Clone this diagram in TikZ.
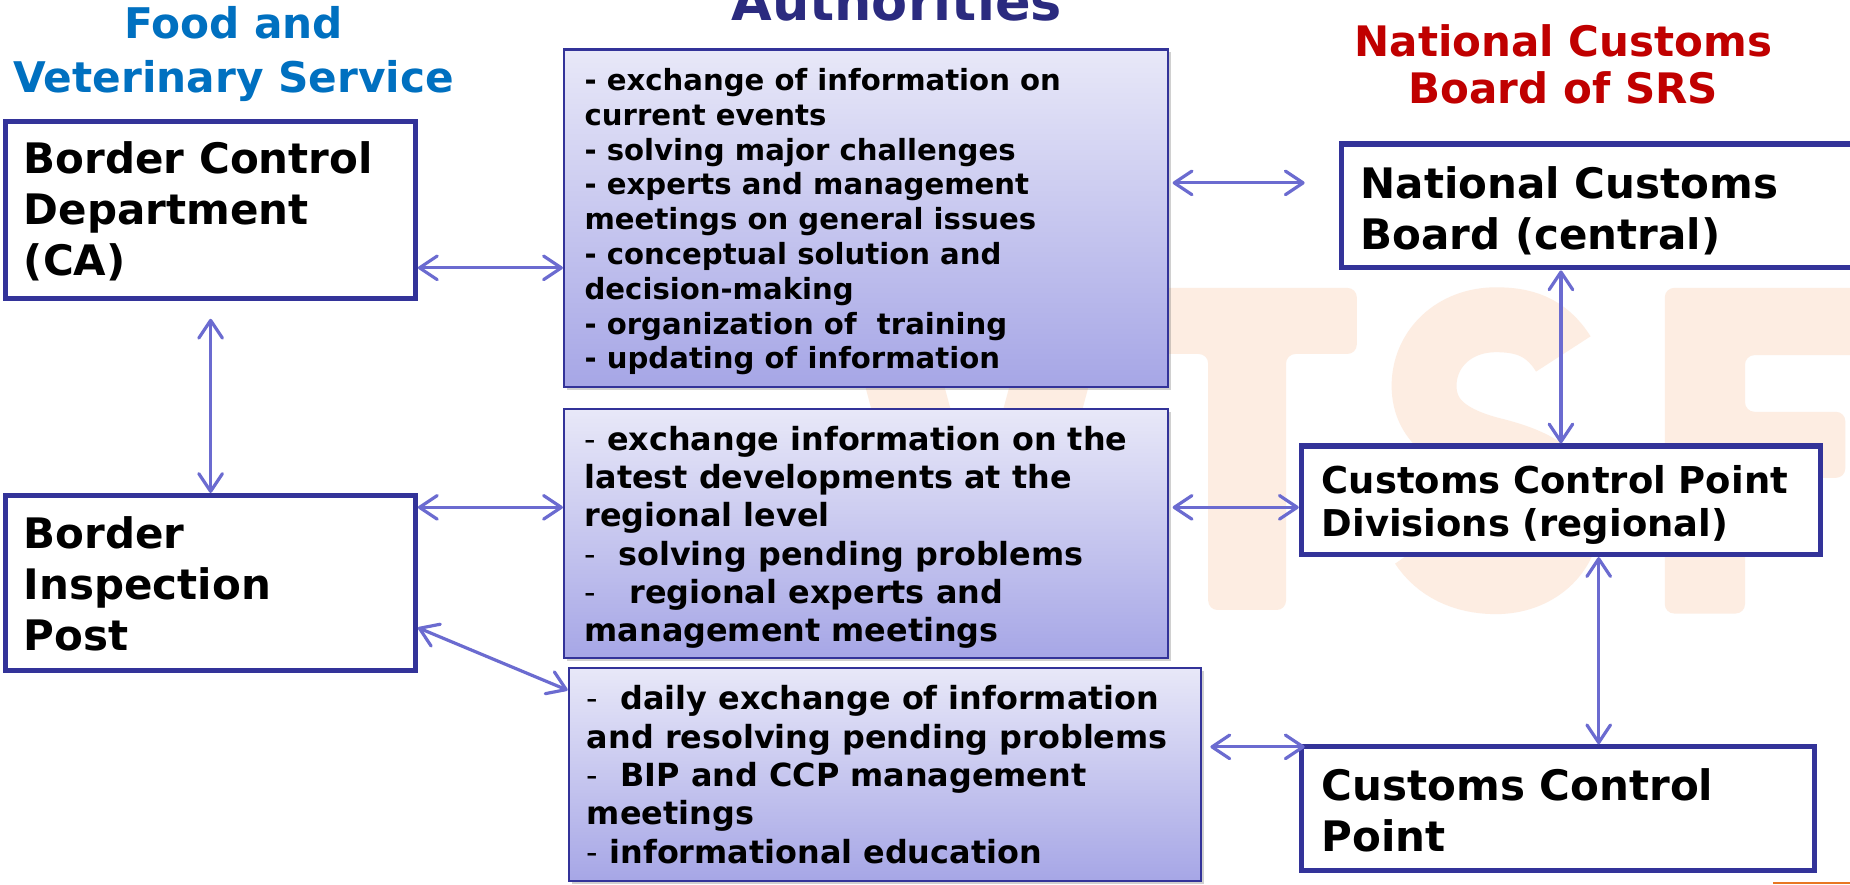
\documentclass[tikz,border=0pt]{standalone}
\usepackage{fontspec}
\setmainfont{DejaVu Sans}
\usetikzlibrary{arrows.meta,shadows,calc}
\definecolor{navy}{RGB}{51,51,153}
\definecolor{arrowc}{RGB}{107,107,208}
\definecolor{boxtop}{RGB}{232,232,248}
\definecolor{boxbot}{RGB}{166,166,230}
\definecolor{wm}{RGB}{253,237,226}
\definecolor{fvsblue}{RGB}{0,112,192}
\definecolor{srsred}{RGB}{192,0,0}
\definecolor{authnavy}{RGB}{43,43,127}
\definecolor{wmorange}{RGB}{232,119,34}
\newcommand\fsz[2]{\fontsize{#1}{#2}\selectfont}
\begin{document}
\begin{tikzpicture}[x=0.5pt,y=-0.5pt,
  thickbox/.style={draw=navy, line width=2.2pt, fill=white, inner sep=0pt},
  gradbox/.style={draw=navy, line width=0.9pt, top color=boxtop, bottom color=boxbot, inner sep=0pt,
     drop shadow={shadow xshift=1.2pt,shadow yshift=-1.2pt,opacity=0.3,fill=black!60}},
  bigtext/.style={anchor=west, align=left, inner sep=0pt, font=\bfseries\fsz{17.8pt}{21.5pt}},
  midtext/.style={anchor=west, align=left, inner sep=0pt, font=\bfseries\fsz{15.65pt}{18pt}},
  smalltext/.style={anchor=west, align=left, inner sep=0pt, font=\bfseries\fsz{12.35pt}{14.75pt}},
  medtext/.style={anchor=west, align=left, inner sep=0pt, font=\bfseries\fsz{13.5pt}{16.25pt}},
  title/.style={anchor=base, inner sep=0pt, font=\bfseries\fsz{17.9pt}{22pt}},
  barb/.tip={Straight Barb[length=7.5pt,width=10pt,round]},
  arr/.style={draw=arrowc, line width=1.35pt, barb-barb},
  wmark/.style={fill=wm, draw=none, rounded corners=4pt}
]
\useasboundingbox (0,0) rectangle (1568,750);
\clip (0,0) rectangle (1568,750);
\fill[white] (0,0) rectangle (1568,750);

% watermark letters VTSF
\path[wmark] (711,244) -- (778,244) -- (828,430) -- (878,244) -- (945,244) -- (871,520) -- (785,520) -- cycle;
\path[wmark] (965,244) -- (1150,244) -- (1150,300) -- (1090,300) -- (1090,517) -- (1024,517) -- (1024,300) -- (965,300) -- cycle;
\draw[wm, line width=27.5pt] (1325,300) .. controls (1310,276) and (1290,271) .. (1268,271)
   .. controls (1232,271) and (1207,296) .. (1207,327)
   .. controls (1207,360) and (1235,374) .. (1268,382)
   .. controls (1303,391) and (1329,405) .. (1329,438)
   .. controls (1329,470) and (1302,493) .. (1268,493)
   .. controls (1240,493) and (1218,482) .. (1205,462);
\path[wmark] (1411,244) -- (1620,244) -- (1620,301) -- (1479,301) -- (1479,349) -- (1564,349) -- (1564,405) -- (1479,405) -- (1479,520) -- (1411,520) -- cycle;

% boxes
\node[thickbox, minimum width=173.5pt, minimum height=75pt] (bcd) at (178.5,178) {};
\node[thickbox, minimum width=173.5pt, minimum height=74pt] (bip) at (178.5,494) {};
\node[gradbox, minimum width=256pt, minimum height=143pt] (box1) at (734,185) {};
\node[gradbox, minimum width=256pt, minimum height=105.5pt] (box2) at (734,452.5) {};
\node[gradbox, minimum width=268pt, minimum height=90.5pt] (box3) at (750,656.5) {};
\node[thickbox, minimum width=236.5pt, minimum height=52.5pt] (ncb) at (1373.5,174.5) {};
\node[thickbox, minimum width=220pt, minimum height=46pt] (ccpd) at (1323,424) {};
\node[thickbox, minimum width=217.5pt, minimum height=52.5pt] (ccp) at (1320.5,685.5) {};

% texts
\node[bigtext] (bcdt) at ($(bcd.west)+(17,1)$) {Border Control\\Department\\(CA)};
\node[bigtext] (bipt) at ($(bip.west)+(17,1)$) {Border\\Inspection\\Post};
\node[smalltext] (box1t) at ($(box1.west)+(18,3)$) {- exchange of information on\\current events\\- solving major challenges\\- experts and management\\meetings on general issues\\- conceptual solution and\\decision-making\\- organization of\ \ training\\- updating of information};
\node[medtext] (box2t) at ($(box2.west)+(18,3)$) {{\mdseries -} exchange information on the\\latest developments at the\\regional level\\{\mdseries -}\ \ solving pending problems\\{\mdseries -}\ \ \ regional experts and\\management meetings};
\node[medtext] (box3t) at ($(box3.west)+(16,0)$) {{\mdseries -}\ \ daily exchange of information\\and resolving pending problems\\{\mdseries -}\ \ BIP and CCP management\\meetings\\{\mdseries -} informational education};
\node[bigtext] (ncbt) at ($(ncb.west)+(18,4)$) {National Customs\\Board (central)};
\node[midtext] (ccpdt) at ($(ccpd.west)+(19,4)$) {Customs Control Point\\Divisions (regional)};
\node[bigtext] (ccpt) at ($(ccp.west)+(19,1)$) {Customs Control\\Point};

% titles
\node[title, text=fvsblue] (fvs1) at (198,33) {Food and};
\node[title, text=fvsblue] (fvs2) at (198,78) {Veterinary Service};
\node[title, text=authnavy, font=\bfseries\fsz{22.25pt}{26pt}] (auth) at (760,17) {Authorities};
\node[title, text=srsred, font=\bfseries\fsz{17.8pt}{22pt}] (srs1) at (1325,48) {National Customs};
\node[title, text=srsred, font=\bfseries\fsz{17.8pt}{22pt}] (srs2) at (1325,88) {Board of SRS};

% connectors
\draw[arr] (bcd.east |- 0,227) -- (box1.west |- 0,227);
\draw[arr] ($(bcd.south)+(0,15)$) -- (bip.north);
\draw[arr] (bip.east |- 0,430) -- (box2.west |- 0,430);
\draw[arr] (bip.east |- 0,532) -- (box3.west |- 0,585);
\draw[arr] ($(box1.east |- 0,155)+(3,0)$) -- ($(ncb.west |- 0,155)+(-29,0)$);
\draw[arr] (ncb.south -| ccpd.north) -- (ccpd.north);
\draw[arr] ($(box2.east |- 0,430)+(3,0)$) -- (ccpd.west |- 0,430);
\draw[arr] (ccpd.south -| 1355,0) -- (ccp.north -| 1355,0);
\draw[arr] ($(box3.east |- 0,633)+(7,0)$) -- ($(ccp.west |- 0,633)+(5,0)$);

% small orange line bottom right
\draw[wmorange, line width=0.8pt] (1503,748.5) -- (1568,748.5);
\end{tikzpicture}
\end{document}
